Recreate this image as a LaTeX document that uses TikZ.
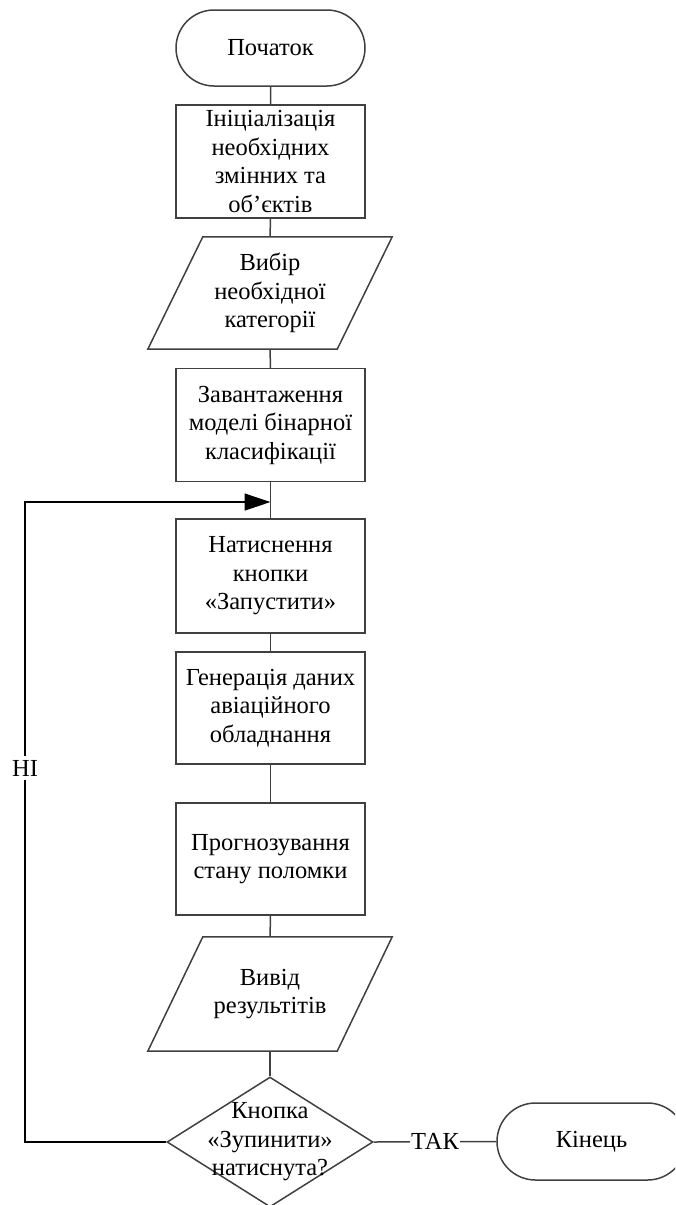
\documentclass[tikz,border=0pt]{standalone}
\usepackage{fontspec}
\setmainfont{Liberation Serif}
\usetikzlibrary{shapes.geometric,shapes.misc,arrows.meta,calc}

\begin{document}
\begin{tikzpicture}[x=1pt,y=-1pt,
  font=\fontsize{24.5}{28.5}\selectfont,
  outline/.style={draw=black!75, line width=1.5pt},
  terminal/.style={outline, rounded rectangle, minimum width=189pt, minimum height=76pt, inner sep=0pt},
  process/.style={outline, rectangle, minimum width=189pt, minimum height=113pt, inner sep=0pt, align=center},
  iobox/.style={rectangle, minimum width=244pt, minimum height=112pt, inner sep=0pt, align=center},
  decision/.style={outline, diamond, minimum width=206pt, minimum height=130pt, inner sep=0pt},
  flow/.style={draw=black!75, line width=1.5pt},
  tag/.style={fill=white, inner sep=1pt}
]
\useasboundingbox (0,0) rectangle (675,1205);
\clip (0,0) rectangle (675,1205);

% main column
\node[terminal] (start) at (270.5,48) {Початок};
\node[process] (init) at (270.5,161.5) {Ініціалізація\\необхідних\\змінних та\\об'єктів};
\node[iobox] (choose) at (270,293) {Вибір\\необхідної\\категорії};
\draw[outline] ($(choose.north west)+(55,0)$) -- (choose.north east)
  -- ($(choose.south east)+(-55,0)$) -- (choose.south west) -- cycle;
\node[process] (load) at (270.5,425) {Завантаження\\моделі бінарної\\класифікації};
\node[process, minimum height=114pt] (press) at (270.5,576) {Натиснення\\кнопки\\«Запустити»};
\node[process, minimum height=112pt] (gen) at (270.5,708) {Генерація даних\\авіаційного\\обладнання};
\node[process, minimum height=112pt] (predict) at (270.5,859) {Прогнозування\\стану поломки};
\node[iobox, minimum height=114pt] (output) at (270,994) {Вивід\\результітів};
\draw[outline] ($(output.north west)+(55,0)$) -- (output.north east)
  -- ($(output.south east)+(-55,0)$) -- (output.south west) -- cycle;
\node[decision] (stop) at (270,1142) {};
\node[align=center] (stoptext) at (stop.center) {Кнопка\\«Зупинити»\\натиснута?};
\node[terminal, minimum height=77pt] (finish) at (591.5,1141.5) {Кінець};

% connectors
\draw[flow] (start) -- (init);
\draw[flow] (init) -- (choose);
\draw[flow] (choose) -- (load);
\draw[flow] (load) -- (press);
\draw[flow] (press) -- (gen);
\draw[flow] (gen) -- (predict);
\draw[flow] (predict) -- (output);
\draw[flow] (output) -- (stop.north);
\draw[flow] (stop.east) -- node[tag] (yes) {ТАК} (finish.west);

% loop back when the button is not pressed
\coordinate (loopbottom) at (25,1142);
\coordinate (looptop) at (25,502);
\coordinate (merge) at (270.5,502);
\draw[line width=1.3pt, draw=black, -{Triangle[length=26pt,width=17pt]}]
  (stop.west) -- (loopbottom) -- node[pos=0.584, fill=white, inner sep=4pt] (no) {НІ} (looptop) -- (merge);
\end{tikzpicture}
\end{document}
